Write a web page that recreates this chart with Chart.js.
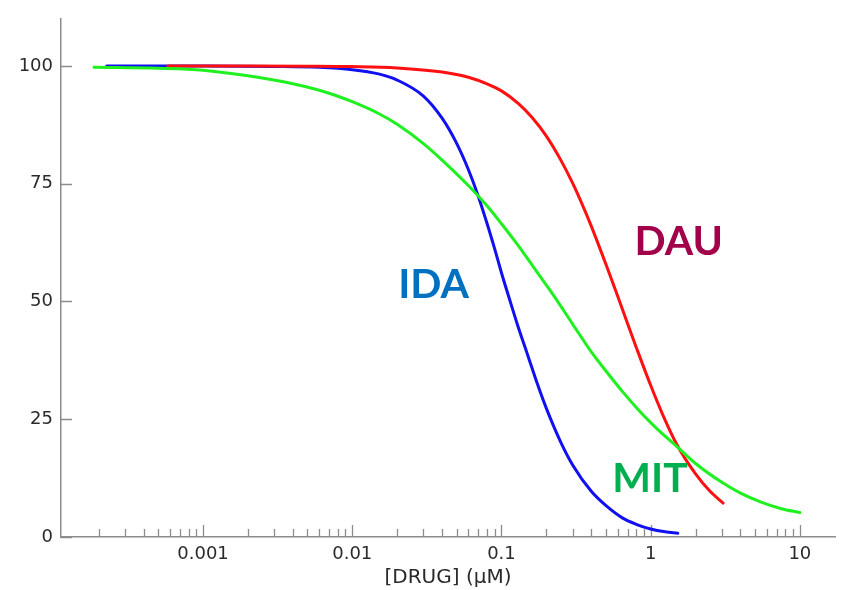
<!DOCTYPE html>
<html>
<head>
<meta charset="utf-8">
<title>Dose response</title>
<script src="https://cdn.jsdelivr.net/npm/chart.js@4.4.1/dist/chart.umd.min.js"></script>
<style>
  body { margin: 0; background: #fff; }
  canvas { display: block; }
</style>
</head>
<body>
<canvas id="doseChart" width="841" height="590"></canvas>
<script>
// curves: [DRUG] in uM vs % response
const idaDose = [0.000226, 0.001, 0.003, 0.006, 0.01, 0.015, 0.02, 0.03, 0.04, 0.05, 0.06, 0.07, 0.08, 0.09, 0.1, 0.115, 0.13, 0.15, 0.175, 0.2, 0.25, 0.3, 0.4, 0.5, 0.65, 0.8, 1.0, 1.25, 1.52];
const idaResp = [100, 100, 99.9, 99.7, 99.2, 98.3, 97.0, 93.6, 88.9, 83.6, 78.0, 72.3, 66.6, 61.2, 56.1, 49.8, 44.4, 38.6, 32.3, 27.3, 20.1, 15.3, 9.7, 6.7, 4.0, 2.7, 1.7, 1.1, 0.8];

const dauDose = [0.00058, 0.002, 0.005, 0.01, 0.02, 0.04, 0.06, 0.08, 0.1, 0.13, 0.16, 0.2, 0.25, 0.3, 0.35, 0.4, 0.5, 0.6, 0.7, 0.8, 1.0, 1.2, 1.5, 2.0, 2.5, 3.06];
const dauResp = [100, 100, 99.95, 99.86, 99.57, 98.7, 97.6, 96.2, 94.7, 92.0, 89.1, 85.1, 80.0, 75.1, 70.4, 66.0, 58.0, 51.2, 45.3, 40.3, 32.2, 26.1, 19.6, 13.4, 9.7, 7.2];

const mitDose = [0.000186, 0.0005, 0.001, 0.002, 0.004, 0.007, 0.01, 0.015, 0.02, 0.03, 0.04, 0.06, 0.08, 0.1, 0.13, 0.17, 0.22, 0.3, 0.4, 0.5, 0.65, 0.85, 1.1, 1.5, 2.0, 3.0, 4.0, 5.5, 7.5, 10];
const mitResp = [99.7, 99.5, 99.1, 97.9, 96.2, 94.2, 92.4, 89.9, 87.6, 83.5, 80.0, 74.6, 70.3, 66.5, 61.8, 56.6, 51.6, 45.2, 39.3, 35.3, 30.8, 26.6, 23.0, 19.2, 15.6, 11.6, 9.3, 7.4, 6.0, 5.2];

const xMajor = [0.001, 0.01, 0.1, 1, 10];
const xMajorLabels = ['0.001', '0.01', '0.1', '1', '10'];
const yTicks = [0, 25, 50, 75, 100];

const drugNames = ['IDA', 'DAU', 'MIT'];
const drugNameColors = ['#0070C0', '#A2004A', '#00B050'];
// where each name sits, in data units (dose, response at text baseline)
const drugNameAt = [[0.0351, 50.8], [1.54, 59.9], [0.99, 9.6]];

// minor ticks 2..9 in every decade
const xMinor = [];
[0.0001, 0.001, 0.01, 0.1, 1].forEach(d => {
  for (let m = 2; m <= 9; m++) xMinor.push(+(m * d).toPrecision(3));
});

const axisColor = '#8c8c8c';
const textColor = '#2a2a2a';

function pts(xs, ys) {
  return xs.map((x, i) => ({ x: x, y: ys[i] }));
}

// ticks point into the plot, so draw them by hand
const insideTicks = {
  id: 'insideTicks',
  beforeDatasetsDraw(chart) {
    const { ctx, chartArea, scales } = chart;
    const x = scales.x, y = scales.y;
    ctx.save();
    ctx.strokeStyle = axisColor;
    ctx.lineWidth = 1.3;
    ctx.beginPath();
    xMinor.forEach(v => {
      const px = Math.round(x.getPixelForValue(v)) + 0.5;
      ctx.moveTo(px, chartArea.bottom);
      ctx.lineTo(px, chartArea.bottom - 8);
    });
    xMajor.forEach(v => {
      const px = Math.round(x.getPixelForValue(v)) + 0.5;
      ctx.moveTo(px, chartArea.bottom);
      ctx.lineTo(px, chartArea.bottom - 12);
    });
    yTicks.forEach(v => {
      const py = Math.round(y.getPixelForValue(v)) + 0.5;
      ctx.moveTo(chartArea.left, py);
      ctx.lineTo(chartArea.left + 11, py);
    });
    ctx.stroke();
    ctx.restore();
  },
  afterDatasetsDraw(chart) {
    const { ctx, scales } = chart;
    ctx.save();
    ctx.font = 'bold 41px Lato, "Open Sans", sans-serif';
    ctx.textAlign = 'center';
    ctx.textBaseline = 'alphabetic';
    drugNames.forEach((name, i) => {
      ctx.fillStyle = drugNameColors[i];
      ctx.fillText(name, scales.x.getPixelForValue(drugNameAt[i][0]), scales.y.getPixelForValue(drugNameAt[i][1]));
    });
    ctx.restore();
  }
};

const lineStyle = {
  borderWidth: 3,
  pointRadius: 0,
  fill: false,
  cubicInterpolationMode: 'monotone',
  borderCapStyle: 'round',
  borderJoinStyle: 'round'
};

new Chart(document.getElementById('doseChart'), {
  type: 'line',
  data: {
    datasets: [
      Object.assign({ label: 'MIT', data: pts(mitDose, mitResp), borderColor: '#1FF01F' }, lineStyle),
      Object.assign({ label: 'DAU', data: pts(dauDose, dauResp), borderColor: '#FF1010' }, lineStyle),
      Object.assign({ label: 'IDA', data: pts(idaDose, idaResp), borderColor: '#1010F0' }, lineStyle)
    ]
  },
  options: {
    responsive: false,
    animation: false,
    devicePixelRatio: 1,
    layout: { padding: { top: 8, right: 6, left: 0, bottom: 0 } },
    plugins: {
      legend: { display: false },
      tooltip: { enabled: false }
    },
    scales: {
      x: {
        type: 'logarithmic',
        min: 0.0001117,
        max: 17.2,
        grid: { display: false, drawTicks: false },
        border: { display: true, color: axisColor, width: 1.5 },
        afterBuildTicks: scale => { scale.ticks = xMajor.map(v => ({ value: v })); },
        afterFit: scale => { scale.height = 53; },
        ticks: {
          autoSkip: false,
          maxRotation: 0,
          padding: 7,
          color: textColor,
          font: { family: 'DejaVu Sans', size: 18 },
          callback: (val, i) => xMajorLabels[i]
        },
        title: {
          display: true,
          text: '[DRUG] (μM)',
          color: textColor,
          font: { family: 'DejaVu Sans', size: 20 },
          padding: { top: 0, bottom: 0 }
        }
      },
      y: {
        min: 0,
        max: 110,
        grid: { display: false, drawTicks: false },
        border: { display: true, color: axisColor, width: 1.5 },
        afterBuildTicks: scale => { scale.ticks = yTicks.map(v => ({ value: v })); },
        afterFit: scale => { scale.width = 61; },
        ticks: {
          padding: 8,
          color: textColor,
          font: { family: 'DejaVu Sans', size: 18 },
          callback: v => String(v)
        }
      }
    }
  },
  plugins: [insideTicks]
});
</script>
</body>
</html>
